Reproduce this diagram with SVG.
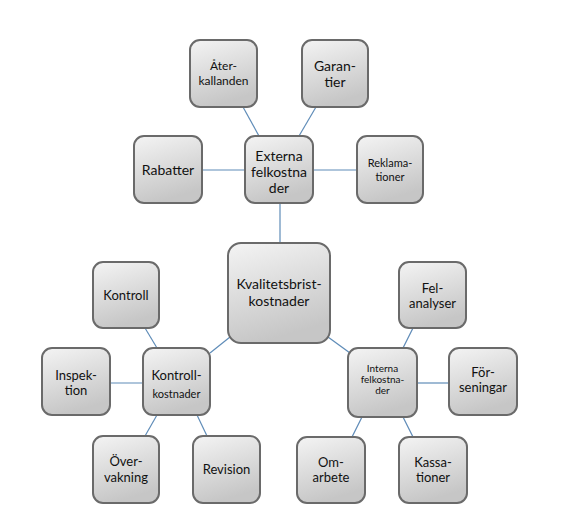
<svg xmlns="http://www.w3.org/2000/svg" width="564" height="527" viewBox="0 0 564 527">
<defs>
<linearGradient id="g" x1="0" y1="0" x2="0.3" y2="1">
<stop offset="0" stop-color="#f4f4f4"/>
<stop offset="1" stop-color="#c6c6c6"/>
</linearGradient>
<style>
.b{fill:url(#g);stroke:#6a6a6a;stroke-width:2}
.t{font-family:Lato,"Liberation Sans",sans-serif;fill:#111;text-anchor:middle}
.c line{stroke:#5f8cb8;stroke-width:1.2}
</style>
</defs>
<rect width="564" height="527" fill="#fff"/>
<g class="c">
<line x1="243" y1="107" x2="259" y2="136"/>
<line x1="316" y1="107" x2="299" y2="136"/>
<line x1="202" y1="170" x2="245" y2="170"/>
<line x1="313" y1="170" x2="357" y2="170"/>
<line x1="280" y1="203" x2="280" y2="243"/>
<line x1="145" y1="328" x2="157" y2="348"/>
<line x1="110" y1="383" x2="143" y2="383"/>
<line x1="210" y1="353" x2="230" y2="337"/>
<line x1="157" y1="415" x2="145" y2="436"/>
<line x1="197" y1="415" x2="207" y2="436"/>
<line x1="328" y1="337" x2="350" y2="353"/>
<line x1="413" y1="328" x2="403" y2="348"/>
<line x1="417" y1="383" x2="449" y2="383"/>
<line x1="362" y1="417" x2="352" y2="437"/>
<line x1="403" y1="417" x2="413" y2="437"/>
</g>
<g id="aterkallanden"><rect class="b" x="190" y="40" width="67" height="67" rx="10"/>
<text class="t" font-size="12"><tspan x="223.5" y="70">Åter-</tspan><tspan x="223.5" y="85">kallanden</tspan></text></g>
<g id="garantier"><rect class="b" x="302" y="40" width="66" height="67" rx="10"/>
<text class="t" font-size="14"><tspan x="335" y="71">Garan-</tspan><tspan x="335" y="87">tier</tspan></text></g>
<g id="rabatter"><rect class="b" x="134" y="136" width="68" height="67" rx="10"/>
<text class="t" font-size="14"><tspan x="168" y="175">Rabatter</tspan></text></g>
<g id="externa"><rect class="b" x="245" y="136" width="68" height="67" rx="10"/>
<text class="t" font-size="14"><tspan x="279" y="161">Externa</tspan><tspan x="279" y="177">felkostna</tspan><tspan x="279" y="193">der</tspan></text></g>
<g id="reklamationer"><rect class="b" x="357" y="136" width="66" height="67" rx="10"/>
<text class="t" font-size="11"><tspan x="390" y="167">Reklama-</tspan><tspan x="390" y="181">tioner</tspan></text></g>
<g id="kvalitetsbrist"><rect class="b" x="228" y="243" width="102" height="100" rx="13"/>
<text class="t" font-size="14"><tspan x="279" y="289">Kvalitetsbrist-</tspan><tspan x="279" y="306">kostnader</tspan></text></g>
<g id="kontroll"><rect class="b" x="93" y="262" width="66" height="66" rx="10"/>
<text class="t" font-size="13"><tspan x="126" y="300">Kontroll</tspan></text></g>
<g id="inspektion"><rect class="b" x="42" y="348" width="68" height="67" rx="10"/>
<text class="t" font-size="13"><tspan x="76" y="380">Inspek-</tspan><tspan x="76" y="395">tion</tspan></text></g>
<g id="kontrollkostnader"><rect class="b" x="143" y="348" width="67" height="67" rx="10"/>
<text class="t"><tspan x="176.5" y="380" font-size="13">Kontroll-</tspan><tspan x="176.5" y="398" font-size="11">kostnader</tspan></text></g>
<g id="overvakning"><rect class="b" x="93" y="436" width="66" height="67" rx="10"/>
<text class="t" font-size="13"><tspan x="126" y="466">Över-</tspan><tspan x="126" y="482">vakning</tspan></text></g>
<g id="revision"><rect class="b" x="193" y="436" width="67" height="67" rx="10"/>
<text class="t" font-size="13"><tspan x="226.5" y="474">Revision</tspan></text></g>
<g id="felanalyser"><rect class="b" x="399" y="262" width="67" height="66" rx="10"/>
<text class="t" font-size="13"><tspan x="432.5" y="293">Fel-</tspan><tspan x="432.5" y="308">analyser</tspan></text></g>
<g id="interna"><rect class="b" x="348" y="348" width="69" height="69" rx="10"/>
<text class="t" font-size="10"><tspan x="382.5" y="372">Interna</tspan><tspan x="382.5" y="383">felkostna-</tspan><tspan x="382.5" y="394">der</tspan></text></g>
<g id="forseningar"><rect class="b" x="449" y="348" width="68" height="67" rx="10"/>
<text class="t" font-size="13"><tspan x="483" y="377">För-</tspan><tspan x="483" y="392">seningar</tspan></text></g>
<g id="omarbete"><rect class="b" x="297" y="437" width="68" height="66" rx="10"/>
<text class="t" font-size="13"><tspan x="331" y="467">Om-</tspan><tspan x="331" y="482">arbete</tspan></text></g>
<g id="kassationer"><rect class="b" x="399" y="437" width="68" height="66" rx="10"/>
<text class="t" font-size="13"><tspan x="433" y="467">Kassa-</tspan><tspan x="433" y="482">tioner</tspan></text></g>
</svg>
